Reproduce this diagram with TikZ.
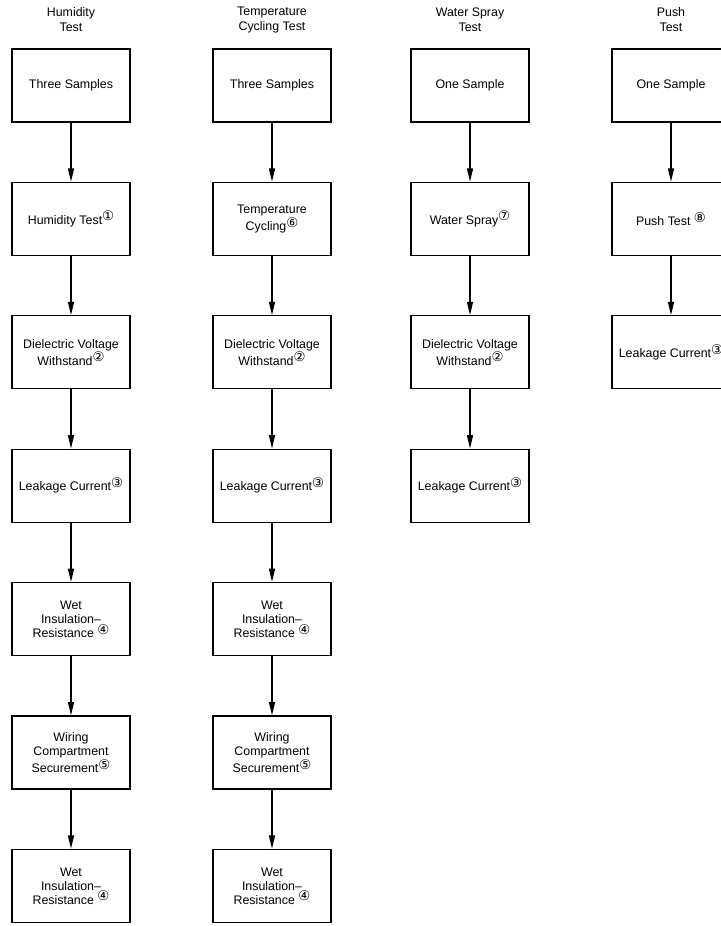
\documentclass[tikz,border=0pt]{standalone}
\usepackage{fontspec}
\setmainfont{Liberation Sans}
\newfontfamily\circfont{DejaVu Sans}
\usetikzlibrary{positioning,arrows.meta}

% circled step number, set high like a superscript
\newcommand{\stepno}[1]{\raisebox{0.5ex}{\circfont\fontsize{10}{10}\selectfont #1}}

\tikzset{
  testbox/.style={draw, line width=1pt, minimum width=88.5pt, minimum height=54.75pt,
    align=center, inner sep=1pt, font={\fontsize{9.3}{10.5}\selectfont}},
  coltitle/.style={align=center, inner sep=0pt, font={\fontsize{9.3}{11.2}\selectfont}},
  flow/.style={line width=1pt, -{Triangle[length=10pt,width=4.5pt]}}
}

\begin{document}
\begin{tikzpicture}[x=0.75pt,y=-0.75pt, node distance=44.3pt]

\useasboundingbox (0,0) rectangle (721,926);
\clip (0,0) rectangle (721,926);

% column titles
\node [coltitle] (htitle) at (71,20) {Humidity\\Test};
\node [coltitle] (ttitle) at (272,20) {Temperature\\Cycling Test};
\node [coltitle] (wtitle) at (470,20) {Water Spray\\Test};
\node [coltitle] (ptitle) at (671,20) {Push\\Test};

% humidity column
\node [testbox] (h1) at (71,85.5) {Three Samples};
\node [testbox, below=of h1] (h2) {Humidity Test\stepno{①}};
\node [testbox, below=of h2] (h3) {Dielectric Voltage\\Withstand\stepno{②}};
\node [testbox, below=of h3] (h4) {Leakage Current\stepno{③}};
\node [testbox, below=of h4] (h5) {Wet\\Insulation--\\Resistance \stepno{④}};
\node [testbox, below=of h5] (h6) {Wiring\\Compartment\\Securement\stepno{⑤}};
\node [testbox, below=of h6] (h7) {Wet\\Insulation--\\Resistance \stepno{④}};

% temperature cycling column
\node [testbox] (t1) at (272,85.5) {Three Samples};
\node [testbox, below=of t1] (t2) {Temperature\\Cycling\stepno{⑥}};
\node [testbox, below=of t2] (t3) {Dielectric Voltage\\Withstand\stepno{②}};
\node [testbox, below=of t3] (t4) {Leakage Current\stepno{③}};
\node [testbox, below=of t4] (t5) {Wet\\Insulation--\\Resistance \stepno{④}};
\node [testbox, below=of t5] (t6) {Wiring\\Compartment\\Securement\stepno{⑤}};
\node [testbox, below=of t6] (t7) {Wet\\Insulation--\\Resistance \stepno{④}};

% water spray column
\node [testbox] (w1) at (470,85.5) {One Sample};
\node [testbox, below=of w1] (w2) {Water Spray\stepno{⑦}};
\node [testbox, below=of w2] (w3) {Dielectric Voltage\\Withstand\stepno{②}};
\node [testbox, below=of w3] (w4) {Leakage Current\stepno{③}};

% push column
\node [testbox] (p1) at (671,85.5) {One Sample};
\node [testbox, below=of p1] (p2) {Push Test \stepno{⑧}};
\node [testbox, below=of p2] (p3) {Leakage Current\stepno{③}};

\draw [flow] (h1) -- (h2);
\draw [flow] (h2) -- (h3);
\draw [flow] (h3) -- (h4);
\draw [flow] (h4) -- (h5);
\draw [flow] (h5) -- (h6);
\draw [flow] (h6) -- (h7);

\draw [flow] (t1) -- (t2);
\draw [flow] (t2) -- (t3);
\draw [flow] (t3) -- (t4);
\draw [flow] (t4) -- (t5);
\draw [flow] (t5) -- (t6);
\draw [flow] (t6) -- (t7);

\draw [flow] (w1) -- (w2);
\draw [flow] (w2) -- (w3);
\draw [flow] (w3) -- (w4);

\draw [flow] (p1) -- (p2);
\draw [flow] (p2) -- (p3);

\end{tikzpicture}
\end{document}
